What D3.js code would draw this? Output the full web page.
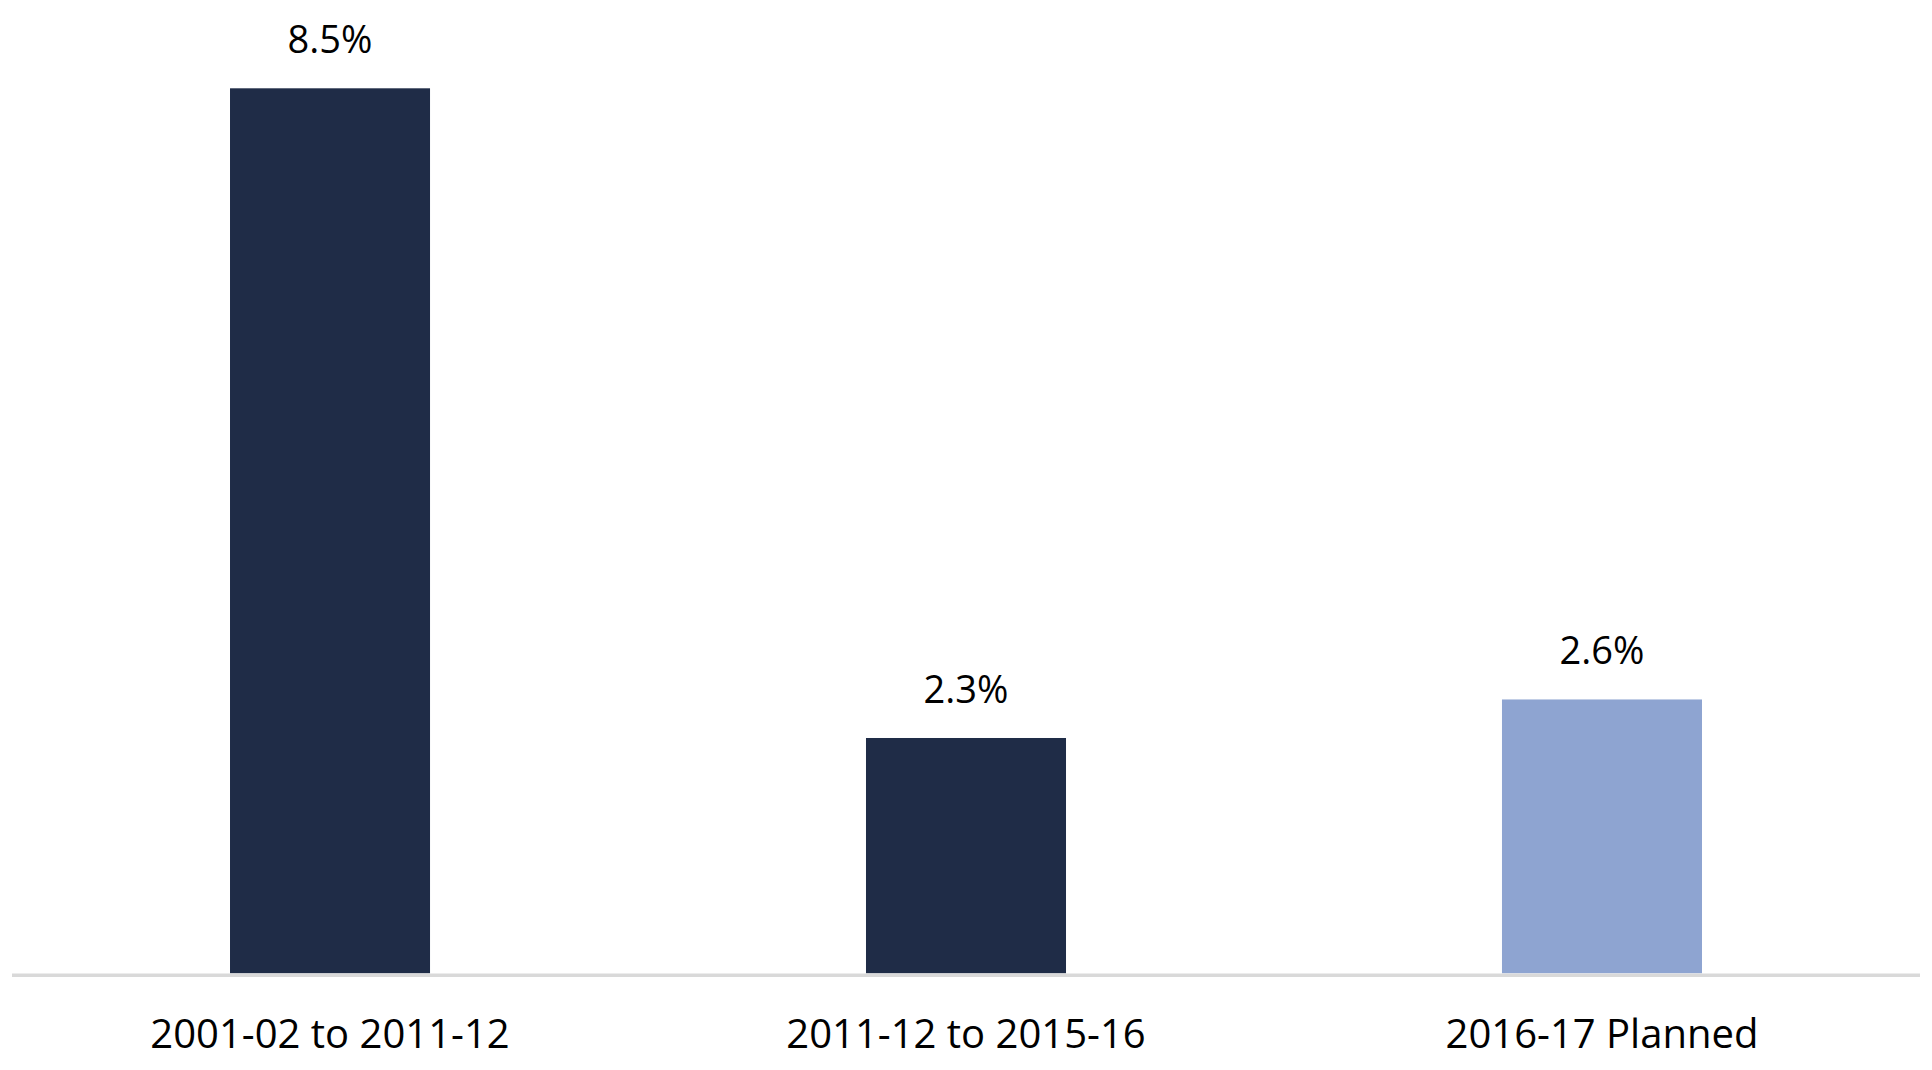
<!DOCTYPE html>
<html>
<head>
<meta charset="utf-8">
<script src="https://cdn.jsdelivr.net/npm/d3@7"></script>
<style>
  html, body { margin: 0; padding: 0; background: #ffffff; }
  svg { display: block; }
  text { font-family: "Segoe UI", "Open Sans", "Noto Sans", sans-serif; fill: #000; }
</style>
</head>
<body>
<svg id="chart" width="1932" height="1070"></svg>
<script>
const categories = ["2001-02 to 2011-12", "2011-12 to 2015-16", "2016-17 Planned"];
const values = [8.5, 2.26, 2.63];
const barColors = ["#1f2c47", "#1f2c47", "#8ea4d1"];

const svg = d3.select("#chart");
const baseline = 973.3;

const x = d3.scaleBand()
  .domain(categories)
  .range([12, 1920])
  .paddingInner(0.6855)
  .paddingOuter(0.3428);

const y = d3.scaleLinear()
  .domain([0, 8.5])
  .range([baseline, 88.3]);

const fmt = d3.format(".1f");

svg.selectAll("rect.bar")
  .data(values)
  .join("rect")
  .attr("class", "bar")
  .attr("x", (d, i) => x(categories[i]))
  .attr("width", x.bandwidth())
  .attr("y", d => y(d))
  .attr("height", d => baseline - y(d))
  .attr("fill", (d, i) => barColors[i]);

// axis line
svg.append("line")
  .attr("x1", 12).attr("x2", 1920)
  .attr("y1", baseline + 2).attr("y2", baseline + 2)
  .attr("stroke", "#d9d9d9")
  .attr("stroke-width", 3.5);

// value labels
svg.selectAll("text.val")
  .data(values)
  .join("text")
  .attr("class", "val")
  .attr("x", (d, i) => x(categories[i]) + x.bandwidth() / 2)
  .attr("y", d => y(d) - 35)
  .attr("text-anchor", "middle")
  .attr("font-size", 38)
  .text(d => fmt(d) + "%");

// category labels
svg.selectAll("text.cat")
  .data(categories)
  .join("text")
  .attr("class", "cat")
  .attr("x", d => x(d) + x.bandwidth() / 2)
  .attr("y", 1048)
  .attr("text-anchor", "middle")
  .attr("font-size", 40)
  .text(d => d);
</script>
</body>
</html>
